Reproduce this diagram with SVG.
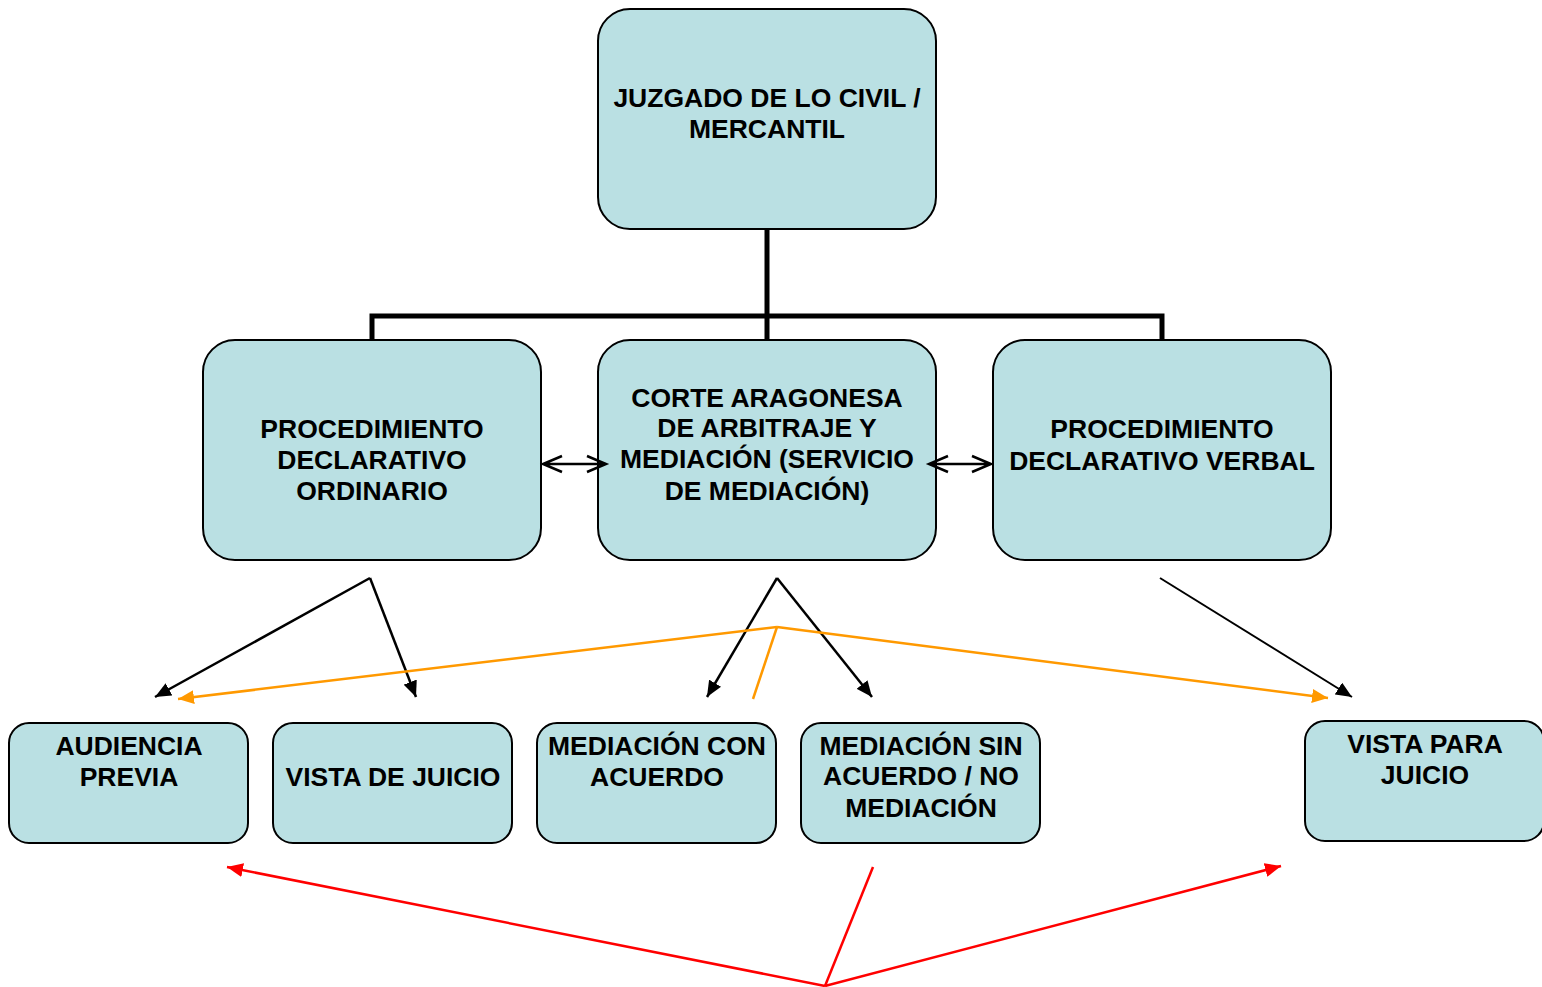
<svg xmlns="http://www.w3.org/2000/svg" width="1542" height="987" viewBox="0 0 1542 987">
<style>
.box{fill:#BAE0E3;stroke:#000;stroke-width:2}
.t{font-family:"Liberation Sans",Arial,sans-serif;font-weight:bold;font-size:26.5px;fill:#000;text-anchor:middle}
.tree{fill:none;stroke:#000;stroke-width:5}
.blk{fill:none;stroke:#000;stroke-width:2.5}
.blk2{fill:none;stroke:#000;stroke-width:2}
.dbl{fill:none;stroke:#000;stroke-width:2.5}
.org{fill:none;stroke:#FF9900;stroke-width:2.5}
.red{fill:none;stroke:#FF0000;stroke-width:2.5}
</style>
<defs>
<marker id="abk" viewBox="0 0 16 14" markerWidth="16" markerHeight="14" refX="16" refY="7" orient="auto" markerUnits="userSpaceOnUse"><path d="M0,0 L16,7 L0,14 z" fill="#000"/></marker>
<marker id="aor" viewBox="0 0 16 14" markerWidth="16" markerHeight="14" refX="16" refY="7" orient="auto" markerUnits="userSpaceOnUse"><path d="M0,0 L16,7 L0,14 z" fill="#FF9900"/></marker>
<marker id="ard" viewBox="0 0 16 14" markerWidth="16" markerHeight="14" refX="16" refY="7" orient="auto" markerUnits="userSpaceOnUse"><path d="M0,0 L16,7 L0,14 z" fill="#FF0000"/></marker>
</defs>

<g id="n-juzgado"><rect class="box" x="598" y="9" width="338" height="220" rx="32"/>
<text class="t" x="767" y="107">JUZGADO DE LO CIVIL /</text><text class="t" x="767" y="138">MERCANTIL</text></g>

<g id="n-ordinario"><rect class="box" x="203" y="340" width="338" height="220" rx="32"/>
<text class="t" x="372" y="438">PROCEDIMIENTO</text><text class="t" x="372" y="469">DECLARATIVO</text><text class="t" x="372" y="500">ORDINARIO</text></g>

<g id="n-corte"><rect class="box" x="598" y="340" width="338" height="220" rx="32"/>
<text class="t" x="767" y="407">CORTE ARAGONESA</text><text class="t" x="767" y="437">DE ARBITRAJE Y</text><text class="t" x="767" y="468">MEDIACIÓN (SERVICIO</text><text class="t" x="767" y="500">DE MEDIACIÓN)</text></g>

<g id="n-verbal"><rect class="box" x="993" y="340" width="338" height="220" rx="32"/>
<text class="t" x="1162" y="438">PROCEDIMIENTO</text><text class="t" x="1162" y="470">DECLARATIVO VERBAL</text></g>

<g id="n-audiencia"><rect class="box" x="9" y="723" width="239" height="120" rx="20"/>
<text class="t" x="129" y="755">AUDIENCIA</text><text class="t" x="129" y="786">PREVIA</text></g>

<g id="n-vista-juicio"><rect class="box" x="273" y="723" width="239" height="120" rx="20"/>
<text class="t" x="393" y="786">VISTA DE JUICIO</text></g>

<g id="n-con-acuerdo"><rect class="box" x="537" y="723" width="239" height="120" rx="20"/>
<text class="t" x="657" y="755">MEDIACIÓN CON</text><text class="t" x="657" y="786">ACUERDO</text></g>

<g id="n-sin-acuerdo"><rect class="box" x="801" y="723" width="239" height="120" rx="20"/>
<text class="t" x="921" y="755">MEDIACIÓN SIN</text><text class="t" x="921" y="785">ACUERDO / NO</text><text class="t" x="921" y="817">MEDIACIÓN</text></g>

<g id="n-vista-para"><rect class="box" x="1305" y="721" width="239" height="120" rx="20"/>
<text class="t" x="1425" y="753">VISTA PARA</text><text class="t" x="1425" y="784">JUICIO</text></g>

<g id="connectors">
<path class="tree" d="M767,229 V340 M372,340 V316 H1162 V340"/>
<path class="dbl" d="M543,464 H606 M562,456 L543,464 L562,472 M587,456 L606,464 L587,472"/>
<path class="dbl" d="M929,464 H991 M948,456 L929,464 L948,472 M972,456 L991,464 L972,472"/>
<line class="blk" x1="370" y1="578" x2="155" y2="697" marker-end="url(#abk)"/>
<line class="blk" x1="370" y1="578" x2="416" y2="697" marker-end="url(#abk)"/>
<line class="blk" x1="777" y1="578" x2="707" y2="697" marker-end="url(#abk)"/>
<line class="blk" x1="777" y1="578" x2="872" y2="697" marker-end="url(#abk)"/>
<line class="blk2" x1="1160" y1="578" x2="1352" y2="697" marker-end="url(#abk)"/>
<line class="org" x1="777" y1="627" x2="178" y2="699" marker-end="url(#aor)"/>
<line class="org" x1="777" y1="627" x2="1328" y2="698" marker-end="url(#aor)"/>
<line class="org" stroke-width="2" x1="777" y1="627" x2="753" y2="699"/>
<line class="red" x1="825" y1="986" x2="227" y2="867" marker-end="url(#ard)"/>
<line class="red" x1="825" y1="986" x2="1281" y2="866" marker-end="url(#ard)"/>
<line class="red" stroke-width="2" x1="825" y1="986" x2="873" y2="867"/>
</g>
</svg>
